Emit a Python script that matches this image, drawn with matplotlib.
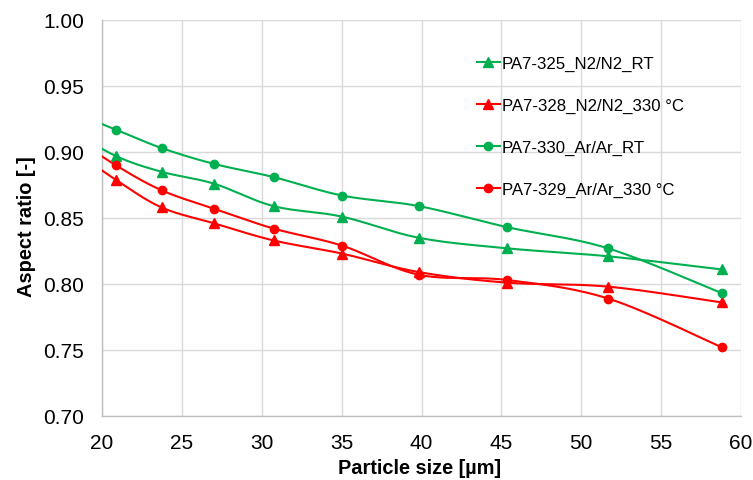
import numpy as np
import matplotlib
matplotlib.use("Agg")
import matplotlib.pyplot as plt
from matplotlib.lines import Line2D

plt.rcParams['font.family'] = ['Liberation Sans', 'DejaVu Sans']

# Particle size [µm] (first point lies left of the visible range)
particle_size = [18.0, 20.86, 23.73, 27.01, 30.74, 35.04, 39.84, 45.38, 51.68, 58.81]

pa7_325 = [0.917, 0.897, 0.885, 0.876, 0.859, 0.851, 0.835, 0.827, 0.821, 0.811]
pa7_328 = [0.903, 0.879, 0.858, 0.846, 0.833, 0.823, 0.809, 0.801, 0.798, 0.786]
pa7_330 = [0.931, 0.917, 0.903, 0.891, 0.881, 0.867, 0.859, 0.843, 0.827, 0.793]
pa7_329 = [0.913, 0.890, 0.871, 0.857, 0.842, 0.829, 0.807, 0.803, 0.789, 0.752]

labels = ["PA7-325_N2/N2_RT", "PA7-328_N2/N2_330 °C",
          "PA7-330_Ar/Ar_RT", "PA7-329_Ar/Ar_330 °C"]
series = [pa7_325, pa7_328, pa7_330, pa7_329]
GREEN = "#00B050"
RED = "#FF0000"
colors = [GREEN, RED, GREEN, RED]
markers = ["^", "^", "o", "o"]

x_ticks = [20, 25, 30, 35, 40, 45, 50, 55, 60]
y_ticks = [0.70, 0.75, 0.80, 0.85, 0.90, 0.95, 1.00]


def smooth(xs, ys, n=30):
    P = np.column_stack([xs, ys]).astype(float)
    out = []
    m = len(P)
    for i in range(m - 1):
        p0 = P[i - 1] if i > 0 else P[i]
        p1 = P[i]
        p2 = P[i + 1]
        p3 = P[i + 2] if i + 2 < m else P[i + 1]
        c1 = p1 + (p2 - p0) / 6.0
        c2 = p2 - (p3 - p1) / 6.0
        t = np.linspace(0, 1, n)[:, None]
        seg = ((1 - t) ** 3) * p1 + 3 * ((1 - t) ** 2) * t * c1 + 3 * (1 - t) * t ** 2 * c2 + t ** 3 * p2
        out.append(seg if i == 0 else seg[1:])
    c = np.vstack(out)
    return c[:, 0], c[:, 1]


fig = plt.figure(figsize=(7.53, 4.81), dpi=100)
ax = fig.add_axes([102 / 753, 1 - 417 / 481, (741 - 102) / 753, (417 - 21) / 481])

handles = []
for ys, c, mk, lab in zip(series, colors, markers, labels):
    sx, sy = smooth(particle_size, ys)
    ax.plot(sx, sy, color=c, lw=1.5, zorder=3)
    ax.plot(particle_size, ys, ls='none', marker=mk, color=c, ms=6 if mk == 'o' else 6.5, zorder=4)
    handles.append(Line2D([], [], color=c, lw=1.5, marker=mk, ms=6 if mk == 'o' else 6.5))

ax.set_xlim(20, 60)
ax.set_ylim(0.70, 1.00)
ax.set_xticks(x_ticks)
ax.set_yticks(y_ticks)
ax.set_yticklabels([f"{v:.2f}" for v in y_ticks])
ax.grid(True, color="#d9d9d9", lw=1.0, zorder=0)
ax.set_axisbelow(True)
for s in ['top', 'right']:
    ax.spines[s].set_visible(False)
for s in ['left', 'bottom']:
    ax.spines[s].set_color("#bfbfbf")
    ax.spines[s].set_linewidth(1.0)
ax.tick_params(axis='both', length=0, labelsize=15, colors='black')
ax.tick_params(axis='y', pad=13)
ax.tick_params(axis='x', pad=12)
ax.set_xlabel("Particle size [µm]", fontsize=14.4, fontweight='bold')
ax.set_ylabel("Aspect ratio [-]", fontsize=14.4, fontweight='bold')
ax.xaxis.set_label_coords((419.5 - 102) / 639, 1 - (468 - 21) / 396)
ax.yaxis.set_label_coords((27 - 102) / 639, 1 - (226.5 - 21) / 396)
ax.xaxis.label.set_va('center')
ax.yaxis.label.set_va('center')

leg = ax.legend(handles, labels, loc='upper left', bbox_to_anchor=((470 - 102) / 639, 1 - (50 - 21) / 396),
                frameon=False, fontsize=12.1, handlelength=1.4, handletextpad=0.1, labelspacing=1.6,
                borderaxespad=0)

fig.savefig("out.png", dpi=100)
